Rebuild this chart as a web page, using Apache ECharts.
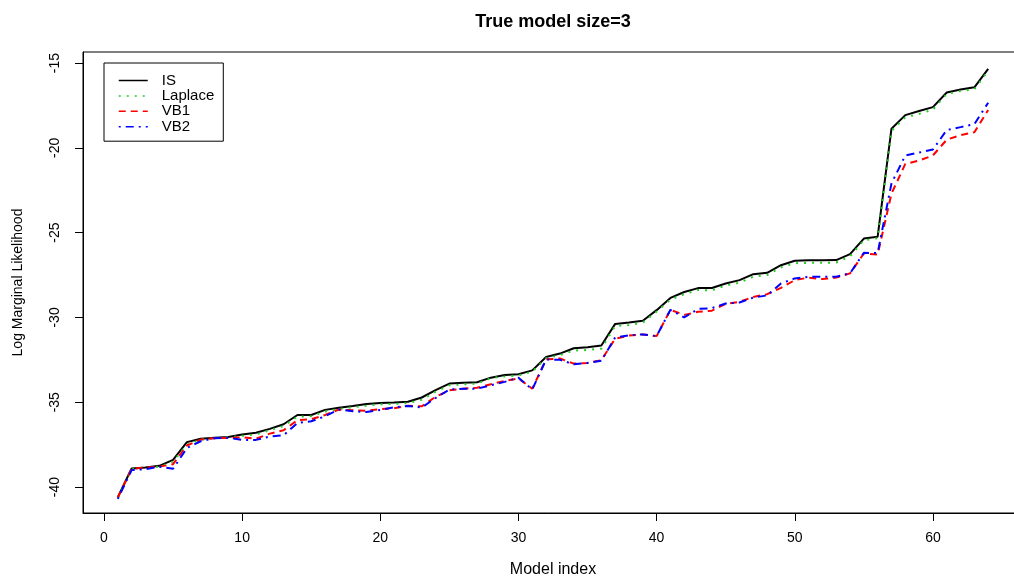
<!DOCTYPE html>
<html>
<head>
<meta charset="utf-8">
<script src="https://cdn.jsdelivr.net/npm/echarts@6/dist/echarts.min.js"></script>
<style>
  html, body { margin: 0; padding: 0; background: #fff; }
  #main { width: 1014px; height: 577px; }
</style>
</head>
<body>
<div id="main"></div>
<script>
// model index 1..64
var modelIndex = [];
for (var k = 1; k <= 64; k++) modelIndex.push(k);

var isVals = [
  -40.6, -38.9, -38.85, -38.75, -38.4, -37.35, -37.15, -37.1, -37.05, -36.9,
  -36.8, -36.57, -36.3, -35.75, -35.75, -35.45, -35.33, -35.22, -35.1, -35.04,
  -35.02, -34.97, -34.72, -34.28, -33.9, -33.85, -33.82, -33.55, -33.4, -33.35,
  -33.12, -32.33, -32.13, -31.82, -31.76, -31.65, -30.38, -30.3, -30.2, -29.57,
  -28.85, -28.5, -28.27, -28.26, -28.0, -27.8, -27.45, -27.37, -26.92, -26.66,
  -26.63, -26.63, -26.62, -26.27, -25.35, -25.24, -18.87, -18.07, -17.83, -17.6,
  -16.74, -16.56, -16.43, -15.35
];
var laplaceVals = [
  -40.62, -38.95, -38.9, -38.8, -38.5, -37.5, -37.2, -37.12, -37.08, -36.98,
  -36.9, -36.65, -36.4, -35.85, -35.82, -35.55, -35.4, -35.3, -35.2, -35.12,
  -35.1, -35.05, -34.85, -34.38, -34.0, -33.95, -33.9, -33.58, -33.48, -33.42,
  -33.2, -32.4, -32.22, -31.95, -31.92, -31.84, -30.5, -30.45, -30.3, -29.65,
  -28.95, -28.62, -28.38, -28.4, -28.12, -27.95, -27.6, -27.5, -27.05, -26.8,
  -26.78, -26.78, -26.76, -26.4, -25.45, -25.33, -19.0, -18.2, -18.0, -17.75,
  -16.82, -16.65, -16.55, -15.45
];
var vb1Vals = [
  -40.62, -38.92, -38.85, -38.8, -38.65, -37.55, -37.2, -37.12, -37.1, -37.07,
  -37.15, -36.85, -36.65, -36.06, -36.0, -35.75, -35.43, -35.47, -35.5, -35.4,
  -35.35, -35.2, -35.24, -34.68, -34.3, -34.2, -34.15, -33.94, -33.74, -33.6,
  -34.2, -32.47, -32.42, -32.72, -32.68, -32.52, -31.25, -31.07, -31.0, -31.1,
  -29.55, -29.85, -29.67, -29.6, -29.2, -29.08, -28.79, -28.63, -28.26, -27.8,
  -27.65, -27.74, -27.65, -27.4, -26.23, -26.29, -22.7, -20.95, -20.75, -20.45,
  -19.52, -19.25, -19.08, -17.77
];
var vb2Vals = [
  -40.7, -39.0, -38.95, -38.8, -38.92, -37.7, -37.3, -37.12, -37.1, -37.22,
  -37.22, -37.02, -36.95, -36.22, -36.12, -35.83, -35.43, -35.53, -35.58, -35.45,
  -35.3, -35.22, -35.31, -34.75, -34.25, -34.2, -34.2, -34.0, -33.8, -33.55,
  -34.25, -32.48, -32.5, -32.76, -32.68, -32.55, -31.18, -31.05, -31.0, -31.1,
  -29.55, -30.0, -29.5, -29.45, -29.18, -29.12, -28.83, -28.7, -28.0, -27.7,
  -27.6, -27.6, -27.6, -27.4, -26.19, -26.2, -22.1, -20.45, -20.28, -20.1,
  -18.95, -18.78, -18.6, -17.34
];

var xTicks = [0, 10, 20, 30, 40, 50, 60];
var yTicks = [-40, -35, -30, -25, -20, -15];
var seriesNames = ['IS', 'Laplace', 'VB1', 'VB2'];

function pairs(vals) {
  return modelIndex.map(function (x, i) { return [x, vals[i]]; });
}

var chart = echarts.init(document.getElementById('main'));
var font = 'Liberation Sans, Arial, Helvetica, sans-serif';

var option = {
  animation: false,
  backgroundColor: '#fff',
  title: {
    text: 'True model size=3',
    left: 548,
    top: 8,
    textAlign: 'center',
    textStyle: { fontFamily: font, fontSize: 18, fontWeight: 'bold', color: '#000' }
  },
  legend: {
    data: seriesNames,
    orient: 'vertical',
    left: 104,
    top: 63,
    padding: [10, 9, 7, 14],
    itemWidth: 29,
    itemHeight: 14,
    itemGap: 0.4,
    borderColor: '#000',
    borderWidth: 1,
    backgroundColor: '#fff',
    // hide the round marker, keep only the line sample
    itemStyle: { color: 'transparent', borderWidth: 0, opacity: 0 },
    lineStyle: { width: 1.5 },
    textStyle: { fontFamily: font, fontSize: 15, color: '#000', padding: [0, 0, 0, 9] }
  },
  grid: {
    left: 83,
    top: 52,
    width: 940,
    height: 461,
    show: true,
    borderColor: '#000',
    borderWidth: 1,
    containLabel: false,
    outerBoundsMode: 'none'
  },
  xAxis: {
    type: 'value',
    min: -1.52,
    max: 66.52,
    name: 'Model index',
    nameLocation: 'middle',
    nameGap: 49,
    nameTextStyle: { fontFamily: font, fontSize: 16, color: '#000' },
    axisLine: { show: true, onZero: false, lineStyle: { color: '#000', width: 1 } },
    axisTick: { show: true, length: 8, customValues: xTicks, lineStyle: { color: '#000' } },
    axisLabel: { customValues: xTicks, margin: 18, fontFamily: font, fontSize: 14, color: '#000' },
    splitLine: { show: false }
  },
  yAxis: {
    type: 'value',
    min: -41.53,
    max: -14.35,
    name: 'Log Marginal Likelihood',
    nameLocation: 'middle',
    nameGap: 58,
    nameTextStyle: { fontFamily: font, fontSize: 14, color: '#000' },
    axisLine: { show: true, onZero: false, lineStyle: { color: '#000', width: 1 } },
    axisTick: { show: true, length: 8, customValues: yTicks, lineStyle: { color: '#000' } },
    axisLabel: { customValues: yTicks, rotate: 90, margin: 21, fontFamily: font, fontSize: 14, color: '#000' },
    splitLine: { show: false }
  },
  series: [
    {
      name: 'IS', type: 'line', data: pairs(isVals), symbol: 'none',
      itemStyle: { color: '#000' },
      lineStyle: { color: '#000', width: 2, type: 'solid' }
    },
    {
      name: 'Laplace', type: 'line', data: pairs(laplaceVals), symbol: 'none',
      itemStyle: { color: '#22cc22' },
      lineStyle: { color: '#22cc22', width: 2, type: [2, 6] }
    },
    {
      name: 'VB1', type: 'line', data: pairs(vb1Vals), symbol: 'none',
      itemStyle: { color: '#ff0000' },
      lineStyle: { color: '#ff0000', width: 2, type: [7, 5] }
    },
    {
      name: 'VB2', type: 'line', data: pairs(vb2Vals), symbol: 'none',
      itemStyle: { color: '#0000ff' },
      lineStyle: { color: '#0000ff', width: 2, type: [2, 5, 8, 5] }
    }
  ]
};

chart.setOption(option);
</script>
</body>
</html>
